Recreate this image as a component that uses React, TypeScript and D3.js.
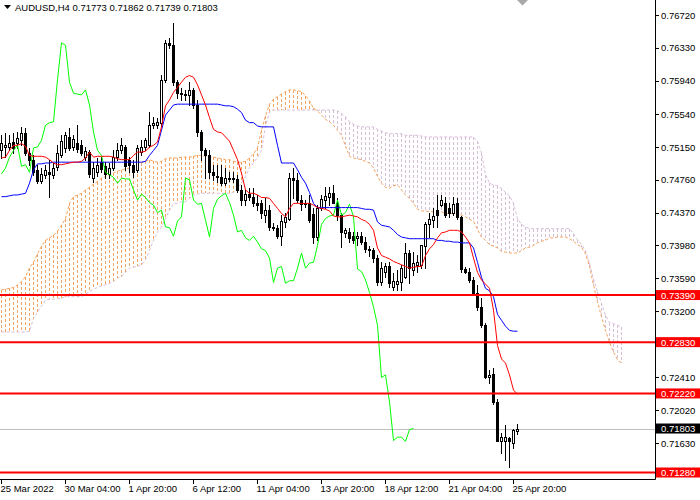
import React from 'react';
import * as d3 from 'd3';

// ---------- data (prices) ----------
const symbolTitle = 'AUDUSD,H4';
const lastQuote = ['0.71773', '0.71862', '0.71739', '0.71803'];

const opens = [
  0.7511, 0.7515, 0.7515, 0.7521, 0.7520, 0.7523, 0.7532, 0.7508, 0.7500, 0.7488,
  0.7475, 0.7482, 0.7485, 0.7482, 0.7491, 0.7505, 0.7514, 0.7527, 0.7515, 0.7520,
  0.7517, 0.7503, 0.7509, 0.7478, 0.7485, 0.7497, 0.7492, 0.7483, 0.7490, 0.7503,
  0.7511, 0.7515, 0.7500, 0.7494, 0.7488, 0.7509, 0.7515, 0.7517, 0.7541, 0.7541,
  0.7544, 0.7595, 0.7639, 0.7636, 0.7592, 0.7579, 0.7578, 0.7577, 0.7583, 0.7565,
  0.7533, 0.7511, 0.7505, 0.7485, 0.7480, 0.7479, 0.7472, 0.7478, 0.7478, 0.7477,
  0.7464, 0.7452, 0.7459, 0.7455, 0.7449, 0.7448, 0.7434, 0.7440, 0.7420, 0.7419,
  0.7409, 0.7426, 0.7430, 0.7478, 0.7476, 0.7452, 0.7447, 0.7448, 0.7435, 0.7408,
  0.7442, 0.7452, 0.7455, 0.7460, 0.7449, 0.7434, 0.7413, 0.7414, 0.7409, 0.7407,
  0.7409, 0.7402, 0.7394, 0.7392, 0.7383, 0.7354, 0.7366, 0.7373, 0.7348, 0.7352,
  0.7354, 0.7360, 0.7389, 0.7369, 0.7375, 0.7375, 0.7397, 0.7423, 0.7428, 0.7440,
  0.7446, 0.7448, 0.7443, 0.7437, 0.7448, 0.7432, 0.7370, 0.7367, 0.7357, 0.7342,
  0.7325, 0.7303, 0.7241, 0.7245, 0.7212, 0.7166, 0.7166, 0.7169, 0.7163, 0.71773,
];
const highs = [
  0.7529, 0.7532, 0.7529, 0.7532, 0.7533, 0.7539, 0.7538, 0.7514, 0.7505, 0.7494,
  0.7490, 0.7494, 0.7500, 0.7496, 0.7517, 0.7529, 0.7533, 0.7538, 0.7529, 0.7541,
  0.7523, 0.7515, 0.7511, 0.7497, 0.7502, 0.7503, 0.7497, 0.7496, 0.7511, 0.7520,
  0.7526, 0.7517, 0.7503, 0.7500, 0.7517, 0.7523, 0.7526, 0.7557, 0.7551, 0.7550,
  0.7601, 0.7642, 0.7645, 0.7663, 0.7595, 0.7585, 0.7583, 0.7592, 0.7585, 0.7571,
  0.7535, 0.7514, 0.7511, 0.7494, 0.7494, 0.7494, 0.7490, 0.7485, 0.7485, 0.7482,
  0.7470, 0.7464, 0.7466, 0.7466, 0.7458, 0.7452, 0.7454, 0.7446, 0.7425, 0.7422,
  0.7434, 0.7436, 0.7484, 0.7490, 0.7484, 0.7458, 0.7452, 0.7458, 0.7442, 0.7446,
  0.7458, 0.7467, 0.7467, 0.7470, 0.7454, 0.7436, 0.7419, 0.7419, 0.7414, 0.7414,
  0.7414, 0.7408, 0.7397, 0.7395, 0.7387, 0.7378, 0.7377, 0.7378, 0.7365, 0.7369,
  0.7375, 0.7401, 0.7392, 0.7390, 0.7387, 0.7398, 0.7426, 0.7436, 0.7442, 0.7458,
  0.7458, 0.7455, 0.7448, 0.7455, 0.7454, 0.7433, 0.7372, 0.7371, 0.7360, 0.7351,
  0.7336, 0.7306, 0.7250, 0.7252, 0.7215, 0.7175, 0.7184, 0.7170, 0.7180, 0.71862,
];
const lows = [
  0.7502, 0.7503, 0.7511, 0.7508, 0.7514, 0.7517, 0.7505, 0.7494, 0.7482, 0.7472,
  0.7472, 0.7478, 0.7456, 0.7478, 0.7488, 0.7503, 0.7509, 0.7511, 0.7511, 0.7509,
  0.7505, 0.7500, 0.7479, 0.7473, 0.7481, 0.7485, 0.7478, 0.7478, 0.7488, 0.7500,
  0.7508, 0.7488, 0.7485, 0.7479, 0.7485, 0.7505, 0.7511, 0.7515, 0.7538, 0.7538,
  0.7540, 0.7592, 0.7633, 0.7589, 0.7573, 0.7571, 0.7571, 0.7565, 0.7561, 0.7528,
  0.7500, 0.7478, 0.7478, 0.7476, 0.7473, 0.7470, 0.7470, 0.7475, 0.7473, 0.7461,
  0.7446, 0.7446, 0.7452, 0.7445, 0.7440, 0.7431, 0.7426, 0.7416, 0.7416, 0.7407,
  0.7398, 0.7420, 0.7428, 0.7454, 0.7450, 0.7440, 0.7444, 0.7426, 0.7401, 0.7404,
  0.7440, 0.7442, 0.7446, 0.7448, 0.7428, 0.7396, 0.7408, 0.7402, 0.7401, 0.7398,
  0.7400, 0.7390, 0.7386, 0.7378, 0.7351, 0.7351, 0.7360, 0.7348, 0.7345, 0.7345,
  0.7345, 0.7359, 0.7353, 0.7363, 0.7366, 0.7371, 0.7371, 0.7408, 0.7420, 0.7420,
  0.7445, 0.7432, 0.7432, 0.7434, 0.7429, 0.7366, 0.7365, 0.7354, 0.7341, 0.7321,
  0.7301, 0.7240, 0.7234, 0.7210, 0.7165, 0.7151, 0.7143, 0.7134, 0.7157, 0.71739,
];
const closes = [
  0.7520, 0.7517, 0.7520, 0.7514, 0.7526, 0.7532, 0.7508, 0.7500, 0.7485, 0.7475,
  0.7483, 0.7488, 0.7483, 0.7490, 0.7508, 0.7522, 0.7529, 0.7514, 0.7525, 0.7513,
  0.7508, 0.7510, 0.7483, 0.7490, 0.7494, 0.7489, 0.7483, 0.7490, 0.7503, 0.7511,
  0.7517, 0.7492, 0.7494, 0.7485, 0.7514, 0.7515, 0.7523, 0.7541, 0.7544, 0.7545,
  0.7595, 0.7639, 0.7636, 0.7592, 0.7579, 0.7578, 0.7577, 0.7583, 0.7565, 0.7533,
  0.7511, 0.7505, 0.7485, 0.7482, 0.7479, 0.7472, 0.7478, 0.7477, 0.7477, 0.7464,
  0.7452, 0.7459, 0.7455, 0.7449, 0.7446, 0.7437, 0.7440, 0.7420, 0.7419, 0.7409,
  0.7427, 0.7432, 0.7478, 0.7476, 0.7452, 0.7447, 0.7448, 0.7428, 0.7408, 0.7442,
  0.7453, 0.7457, 0.7460, 0.7449, 0.7434, 0.7414, 0.7416, 0.7407, 0.7404, 0.7409,
  0.7402, 0.7394, 0.7392, 0.7383, 0.7354, 0.7371, 0.7373, 0.7353, 0.7356, 0.7356,
  0.7371, 0.7389, 0.7371, 0.7377, 0.7378, 0.7398, 0.7423, 0.7430, 0.7433, 0.7434,
  0.7452, 0.7434, 0.7437, 0.7447, 0.7432, 0.7370, 0.7367, 0.7357, 0.7342, 0.7325,
  0.7303, 0.7241, 0.7244, 0.7212, 0.7166, 0.7170, 0.7170, 0.7165, 0.7179, 0.71803,
];

const tenkan = [
  0.7502, 0.7503, 0.7511, 0.7517, 0.7517, 0.7519, 0.7516, 0.7505, 0.7504, 0.7504,
  0.7504, 0.7503, 0.7500, 0.7496, 0.7494, 0.7494, 0.7495, 0.7496, 0.7497, 0.7497,
  0.7498, 0.7502, 0.7509, 0.7503, 0.7504, 0.7504, 0.7504, 0.7504, 0.7503, 0.7501,
  0.7500, 0.7500, 0.7500, 0.7505, 0.7509, 0.7509, 0.7510, 0.7515, 0.7517, 0.7521,
  0.7539, 0.7564, 0.7571, 0.7580, 0.7586, 0.7592, 0.7598, 0.7600, 0.7598, 0.7589,
  0.7577, 0.7565, 0.7550, 0.7536, 0.7533, 0.7532, 0.7527, 0.7522, 0.7511, 0.7500,
  0.7484, 0.7464, 0.7460, 0.7460, 0.7458, 0.7455, 0.7455, 0.7454, 0.7448, 0.7442,
  0.7436, 0.7432, 0.7442, 0.7448, 0.7448, 0.7448, 0.7448, 0.7448, 0.7446, 0.7443,
  0.7442, 0.7441, 0.7439, 0.7433, 0.7432, 0.7432, 0.7433, 0.7434, 0.7433, 0.7432,
  0.7429, 0.7427, 0.7423, 0.7416, 0.7395, 0.7386, 0.7384, 0.7382, 0.7379, 0.7377,
  0.7375, 0.7373, 0.7371, 0.7372, 0.7373, 0.7373, 0.7386, 0.7394, 0.7399, 0.7407,
  0.7413, 0.7414, 0.7416, 0.7416, 0.7416, 0.7414, 0.7408, 0.7401, 0.7383, 0.7366,
  0.7357, 0.7352, 0.7347, 0.7321, 0.7279, 0.7263, 0.7258, 0.7244, 0.7226, 0.7221,
];
const kijun = [
  0.7456, 0.7456, 0.7457, 0.7458, 0.7458, 0.7459, 0.7460, 0.7472, 0.7488, 0.7495,
  0.7495, 0.7496, 0.7496, 0.7497, 0.7497, 0.7497, 0.7497, 0.7497, 0.7497, 0.7497,
  0.7497, 0.7497, 0.7497, 0.7497, 0.7497, 0.7497, 0.7497, 0.7497, 0.7497, 0.7497,
  0.7497, 0.7497, 0.7497, 0.7497, 0.7497, 0.7497, 0.7498, 0.7505, 0.7511, 0.7517,
  0.7535, 0.7553, 0.7559, 0.7565, 0.7566, 0.7566, 0.7566, 0.7566, 0.7566, 0.7566,
  0.7566, 0.7566, 0.7566, 0.7566, 0.7566, 0.7565, 0.7564, 0.7564, 0.7563, 0.7560,
  0.7556, 0.7547, 0.7544, 0.7544, 0.7540, 0.7539, 0.7539, 0.7539, 0.7539, 0.7517,
  0.7496, 0.7496, 0.7496, 0.7496, 0.7488, 0.7479, 0.7472, 0.7461, 0.7448, 0.7443,
  0.7443, 0.7443, 0.7443, 0.7443, 0.7443, 0.7443, 0.7443, 0.7443, 0.7443, 0.7443,
  0.7442, 0.7441, 0.7441, 0.7440, 0.7426, 0.7422, 0.7421, 0.7420, 0.7416, 0.7411,
  0.7408, 0.7407, 0.7406, 0.7406, 0.7406, 0.7406, 0.7406, 0.7406, 0.7406, 0.7404,
  0.7404, 0.7403, 0.7403, 0.7402, 0.7402, 0.7401, 0.7401, 0.7401, 0.7395, 0.7378,
  0.7360, 0.7347, 0.7344, 0.7337, 0.7316, 0.7309, 0.7302, 0.7297, 0.7296, 0.7296,
];
const spanA = [
  0.7345, 0.7346, 0.7347, 0.7348, 0.7351, 0.7355, 0.7361, 0.7371, 0.7378, 0.7388,
  0.7397, 0.7404, 0.7407, 0.7410, 0.7415, 0.7422, 0.7430, 0.7448, 0.7456, 0.7458,
  0.7460, 0.7464, 0.7467, 0.7471, 0.7474, 0.7478, 0.7480, 0.7482, 0.7484, 0.7486,
  0.7488, 0.7489, 0.7490, 0.7492, 0.7495, 0.7496, 0.7498, 0.7500, 0.7498, 0.7497,
  0.7498, 0.7501, 0.7502, 0.7502, 0.7502, 0.7503, 0.7503, 0.7503, 0.7504, 0.7505,
  0.7505, 0.7504, 0.7503, 0.7503, 0.7502, 0.7501, 0.7500, 0.7500, 0.7498, 0.7497,
  0.7497, 0.7498, 0.7502, 0.7507, 0.7514, 0.7535, 0.7552, 0.7566, 0.7572, 0.7575,
  0.7578, 0.7581, 0.7583, 0.7583, 0.7582, 0.7581, 0.7576, 0.7570, 0.7561, 0.7558,
  0.7553, 0.7548, 0.7545, 0.7541, 0.7535, 0.7529, 0.7516, 0.7504, 0.7502, 0.7501,
  0.7500, 0.7498, 0.7496, 0.7490, 0.7480, 0.7472, 0.7467, 0.7466, 0.7469, 0.7470,
  0.7464, 0.7458, 0.7454, 0.7448, 0.7441, 0.7439, 0.7439, 0.7438, 0.7438, 0.7438,
  0.7438, 0.7436, 0.7436, 0.7436, 0.7436, 0.7434, 0.7432, 0.7429, 0.7427, 0.7417,
  0.7408, 0.7404, 0.7399, 0.7397, 0.7395, 0.7391, 0.7390, 0.7389, 0.7389, 0.7389,
  0.7392, 0.7395, 0.7396, 0.7398, 0.7401, 0.7403, 0.7404, 0.7407, 0.7407, 0.7408,
  0.7408, 0.7408, 0.7406, 0.7403, 0.7399, 0.7396, 0.7388, 0.7373, 0.7351, 0.7331,
  0.7313, 0.7297, 0.7283, 0.7271, 0.7262, 0.7258,
];
const spanB = [
  0.7295, 0.7295, 0.7295, 0.7295, 0.7295, 0.7295, 0.7295, 0.7296, 0.7311, 0.7319,
  0.7326, 0.7333, 0.7334, 0.7334, 0.7335, 0.7335, 0.7337, 0.7337, 0.7337, 0.7337,
  0.7337, 0.7340, 0.7343, 0.7346, 0.7348, 0.7350, 0.7351, 0.7353, 0.7355, 0.7359,
  0.7361, 0.7366, 0.7371, 0.7372, 0.7373, 0.7375, 0.7381, 0.7392, 0.7404, 0.7414,
  0.7420, 0.7430, 0.7440, 0.7448, 0.7448, 0.7450, 0.7450, 0.7454, 0.7458, 0.7459,
  0.7460, 0.7460, 0.7460, 0.7460, 0.7460, 0.7460, 0.7460, 0.7460, 0.7461, 0.7466,
  0.7472, 0.7480, 0.7490, 0.7496, 0.7503, 0.7511, 0.7540, 0.7557, 0.7559, 0.7559,
  0.7559, 0.7559, 0.7559, 0.7559, 0.7559, 0.7559, 0.7559, 0.7559, 0.7559, 0.7559,
  0.7559, 0.7559, 0.7559, 0.7559, 0.7558, 0.7555, 0.7551, 0.7545, 0.7542, 0.7540,
  0.7539, 0.7539, 0.7539, 0.7539, 0.7536, 0.7534, 0.7532, 0.7531, 0.7531, 0.7531,
  0.7531, 0.7529, 0.7529, 0.7529, 0.7529, 0.7528, 0.7527, 0.7527, 0.7527, 0.7527,
  0.7527, 0.7527, 0.7527, 0.7527, 0.7527, 0.7527, 0.7527, 0.7527, 0.7527, 0.7522,
  0.7508, 0.7482, 0.7472, 0.7470, 0.7469, 0.7466, 0.7461, 0.7457, 0.7448, 0.7430,
  0.7423, 0.7420, 0.7418, 0.7418, 0.7418, 0.7418, 0.7418, 0.7418, 0.7418, 0.7418,
  0.7418, 0.7418, 0.7418, 0.7412, 0.7405, 0.7399, 0.7392, 0.7377, 0.7358, 0.7343,
  0.7329, 0.7315, 0.7306, 0.7305, 0.7303, 0.7301,
];
const chikouShift = 26;

const levels = [0.7339, 0.7283, 0.7222, 0.7128];
const bid = 0.71803;
const priceTicks = [
  0.7672, 0.7633, 0.7594, 0.7554, 0.7515, 0.7476, 0.7437, 0.7398, 0.7359, 0.732,
  0.7241, 0.7202, 0.7163,
];
const hiddenTicks = [0.7281, 0.7124];
const timeLabels = [
  '25 Mar 2022', '30 Mar 04:00', '1 Apr 20:00', '6 Apr 12:00', '11 Apr 04:00',
  '13 Apr 20:00', '18 Apr 12:00', '21 Apr 04:00', '25 Apr 20:00',
];
const timeLabelBars = [0, 16, 32, 48, 64, 80, 96, 112, 128];

// ---------- chart ----------
const W = 700;
const H = 500;
const PR = 655; // plot right
const PB = 479; // plot bottom
const FONT = "'Liberation Sans', Arial, sans-serif";
const ORANGE = '#F4A460';
const THISTLE = '#D8BFD8';

export default function App() {
  const x = d3.scaleLinear().domain([0, 1]).range([1, 5]);
  const y = d3.scaleLinear().domain([0.7128, 0.7672]).range([472.5, 15]);
  const cx = (i: number) => Math.round(x(i)) + 0.5;
  const ry = (v: number) => Math.round(y(v));

  const mkLine = (vals: number[], offset = 0) =>
    d3
      .line<number>()
      .x((_, i) => cx(i + offset))
      .y((v) => y(v))(vals) || '';

  const chikou = closes.slice(chikouShift);
  const fmt = d3.format('.5f');

  // hatch dashes of the cloud (1px wide, 3px on / 2px off), built per bar from spans
  const hatch: { x: number; y: number; h: number; c: string }[] = [];
  spanA.forEach((a, i) => {
    const b = spanB[i];
    const top = Math.round(Math.min(y(a), y(b)));
    const bot = Math.round(Math.max(y(a), y(b)));
    const col = a >= b ? ORANGE : THISTLE;
    for (let yy = top; yy < bot; yy += 5) {
      hatch.push({ x: Math.round(x(i)), y: yy, h: Math.min(3, bot - yy), c: col });
    }
  });

  return (
    <svg
      width={W}
      height={H}
      style={{ position: 'absolute', left: 0, top: 0, background: '#fff', display: 'block' }}
      fontFamily={FONT}
    >
      <rect x={0} y={0} width={W} height={H} fill="#fff" />

      {/* Ichimoku cloud hatching */}
      <g shapeRendering="crispEdges">
        {hatch.map((d, k) => (
          <rect key={'h' + k} x={d.x} y={d.y} width={1} height={d.h} fill={d.c} />
        ))}
      </g>
      <path d={mkLine(spanB)} fill="none" stroke={THISTLE} strokeWidth={1} strokeDasharray="3,2" />
      <path d={mkLine(spanA)} fill="none" stroke={ORANGE} strokeWidth={1} strokeDasharray="3,2" />

      {/* bid line */}
      <line x1={0} x2={PR} y1={ry(bid) + 0.5} y2={ry(bid) + 0.5} stroke="#C0C0C0" strokeWidth={1} />

      {/* candles */}
      <g shapeRendering="crispEdges">
        {opens.map((o, i) => {
          const c = closes[i];
          const hi = highs[i];
          const lo = lows[i];
          const xc = cx(i);
          const yTop = ry(Math.max(o, c));
          const yBot = ry(Math.min(o, c));
          const bull = c > o;
          return (
            <g key={'c' + i}>
              <line x1={xc} x2={xc} y1={ry(hi)} y2={ry(lo) + 1} stroke="#000" strokeWidth={1} />
              {yBot - yTop < 1 ? (
                <line x1={xc - 1.5} x2={xc + 1.5} y1={yTop + 0.5} y2={yTop + 0.5} stroke="#000" />
              ) : bull ? (
                <rect x={xc - 1} y={yTop + 0.5} width={2} height={yBot - yTop} fill="#fff" stroke="#000" strokeWidth={1} />
              ) : (
                <rect x={xc - 1.5} y={yTop} width={3} height={yBot - yTop + 1} fill="#000" />
              )}
            </g>
          );
        })}
      </g>

      {/* Ichimoku lines */}
      <path d={mkLine(chikou)} fill="none" stroke="#00FF00" strokeWidth={1} />
      <path d={mkLine(kijun)} fill="none" stroke="#0000FF" strokeWidth={1} />
      <path d={mkLine(tenkan)} fill="none" stroke="#FF0000" strokeWidth={1} />

      {/* horizontal levels */}
      {levels.map((v) => (
        <line key={'l' + v} x1={0} x2={PR} y1={y(v)} y2={y(v)} stroke="#FF0000" strokeWidth={2} />
      ))}

      {/* axes */}
      <line x1={PR + 0.5} x2={PR + 0.5} y1={0} y2={PB + 0.5} stroke="#000" strokeWidth={1} />
      <line x1={0} x2={PR + 0.5} y1={PB + 0.5} y2={PB + 0.5} stroke="#000" strokeWidth={1} />

      {/* price ticks */}
      {hiddenTicks.map((v) => (
        <line key={'ht' + v} x1={PR} x2={PR + 4} y1={ry(v) + 0.5} y2={ry(v) + 0.5} stroke="#000" />
      ))}
      {priceTicks.map((v) => (
        <g key={'t' + v}>
          <line x1={PR} x2={PR + 4} y1={ry(v) + 0.5} y2={ry(v) + 0.5} stroke="#000" />
          <text x={661} y={y(v) + 3.5} fontSize={9.5} fill="#000">
            {fmt(v)}
          </text>
        </g>
      ))}

      {/* level labels */}
      {levels.map((v) => (
        <g key={'ll' + v}>
          <rect x={656} y={y(v) - 5} width={44} height={10} fill="#FF0000" />
          <text x={661} y={y(v) + 3.5} fontSize={9.5} fill="#fff">
            {fmt(v)}
          </text>
        </g>
      ))}
      <g>
        <rect x={656} y={y(bid) - 5} width={44} height={10} fill="#000" />
        <text x={661} y={y(bid) + 3.5} fontSize={9.5} fill="#fff">
          {fmt(bid)}
        </text>
      </g>

      {/* time axis */}
      {timeLabelBars.map((b, k) => (
        <g key={'x' + b}>
          <line x1={cx(b)} x2={cx(b)} y1={PB} y2={PB + 5} stroke="#000" />
          <text x={cx(b) - 1} y={492} fontSize={9.5} fill="#000">
            {timeLabels[k]}
          </text>
        </g>
      ))}

      {/* title */}
      <polygon points="4,5 11,5 7.5,9" fill="#000" />
      <text x={15} y={11} fontSize={9.5} fill="#000">
        {symbolTitle + '  ' + lastQuote.join(' ')}
      </text>

      {/* shift marker */}
      <polygon points="517,0 528,0 522.5,5.5" fill="#A8A8A8" />
    </svg>
  );
}
